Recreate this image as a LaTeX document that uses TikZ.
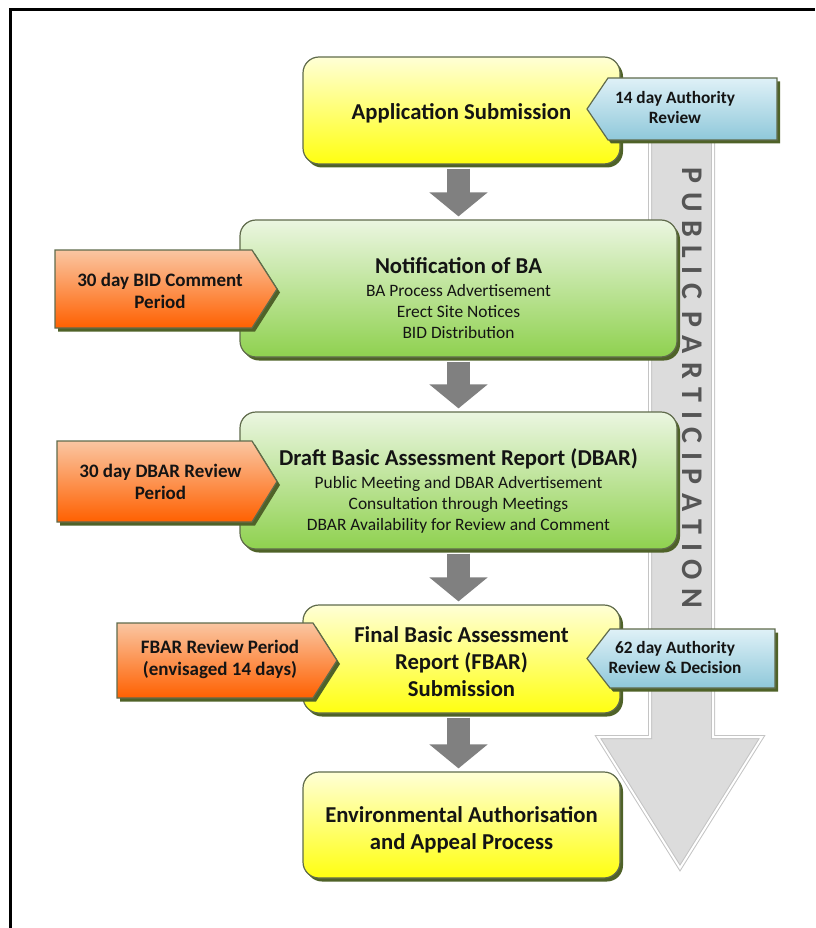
\documentclass[tikz,border=0pt]{standalone}
\usepackage{fontspec}
\setmainfont{Carlito}
\usetikzlibrary{arrows.meta,shadows}
\definecolor{boxline}{HTML}{606B4C}
\definecolor{shad}{HTML}{4F6228}
\definecolor{yTop}{HTML}{FFFFD6}
\definecolor{yBot}{HTML}{FFFF10}
\definecolor{gTop}{HTML}{EBF6E1}
\definecolor{gBot}{HTML}{8FD14F}
\definecolor{oTop}{HTML}{FAC6A2}
\definecolor{oBot}{HTML}{FF6000}
\definecolor{bTop}{HTML}{DFF1F7}
\definecolor{bBot}{HTML}{8FC8DA}
\definecolor{flowgray}{HTML}{808080}
\definecolor{bigfill}{HTML}{DCDCDC}
\definecolor{bigline}{HTML}{C4C4C4}
\definecolor{pptext}{HTML}{555555}
\definecolor{txtcol}{HTML}{141414}
\def\BigArrowPath{(650,100) -- (713,100) -- (713,737) -- (762,737) -- (680,868) -- (598,737) -- (650,737) -- cycle}
\begin{document}
\begin{tikzpicture}[x=1pt,y=-1pt,
  shadowed/.style={drop shadow={shadow xshift=3pt, shadow yshift=-3.5pt, fill=shad, opacity=1}},
  box/.style={rounded corners=16pt, draw=boxline, line width=1.2pt, inner sep=0pt, shadowed},
  ybox/.style={box, top color=yTop, bottom color=yBot},
  gbox/.style={box, top color=gTop, bottom color=gBot},
  otag/.style={draw=boxline, line width=1.2pt, top color=oTop, bottom color=oBot, shadowed},
  btag/.style={draw=boxline, line width=1.2pt, top color=bTop, bottom color=bBot, shadowed},
  txt/.style={align=center, text=txtcol, inner sep=0pt},
  ttl/.style={txt, font=\fontsize{22.7}{27}\selectfont\bfseries},
  sub/.style={txt, font=\fontsize{17.4}{21}\selectfont},
  otagtxt/.style={txt, font=\fontsize{19}{22}\selectfont\bfseries},
  btagtxt/.style={txt, font=\fontsize{17.3}{20}\selectfont\bfseries},
  flow/.style={draw=flowgray, line width=23pt, -{Triangle[length=24pt,width=57pt]}, shorten >=3pt, shorten <=4pt}]
\useasboundingbox (0,0) rectangle (815,928);
% frame
\draw[line width=3pt] (10,928) -- (10,9.5) -- (815,9.5);
% public participation arrow
\path[draw=bigline, line width=4pt, fill=bigfill] \BigArrowPath;
\draw[white, line width=2pt] \BigArrowPath;
\node[rotate=-90, text=pptext, inner sep=0pt, font=\fontsize{30}{30}\selectfont\bfseries] (pp) at (692,388)
  {P\kern8.5pt U\kern8.5pt B\kern8.5pt L\kern8.5pt I\kern8.5pt C\kern12pt P\kern8.5pt A\kern8.5pt R\kern8.5pt T\kern8.5pt I\kern8.5pt C\kern8.5pt I\kern8.5pt P\kern8.5pt A\kern8.5pt T\kern8.5pt I\kern8.5pt O\kern8.5pt N};
% boxes
\node[ybox, minimum width=317pt, minimum height=107pt] (b1) at (461.5,110.5) {};
\node[gbox, minimum width=437pt, minimum height=137pt] (b2) at (458.5,288.5) {};
\node[gbox, minimum width=437pt, minimum height=137pt] (b3) at (458.5,480.5) {};
\node[ybox, minimum width=317pt, minimum height=108pt] (b4) at (461.5,659) {};
\node[ybox, minimum width=317pt, minimum height=106pt] (b5) at (461.5,825) {};
% box texts
\node[ttl, anchor=base] (b1t) at (461.5,120) {Application Submission};
\node[sub] (b2t) at (458.5,298.5) {{\fontsize{22.7}{24}\selectfont\bfseries Notification of BA}\\[2pt]BA Process Advertisement\\Erect Site Notices\\BID Distribution};
\node[sub] (b3t) at (458.5,490.5) {{\fontsize{22.7}{24}\selectfont\bfseries Draft Basic Assessment Report (DBAR)}\\[2pt]Public Meeting and DBAR Advertisement\\Consultation through Meetings\\DBAR Availability for Review and Comment};
\node[ttl] (b4t) at (461.5,661.5) {Final Basic Assessment\\Report (FBAR)\\Submission};
\node[ttl] (b5t) at (461.5,830) {Environmental Authorisation\\and Appeal Process};
% flow arrows
\draw[flow] (b1.south -| b2.north) -- (b2.north);
\draw[flow] (b2.south) -- (b3.north);
\draw[flow] (b3.south) -- (b3.south |- b4.north);
\draw[flow] (b4.south -| b3.south) -- (b3.south |- b5.north);
% orange tags
\path[otag] (55,250) -- (252,250) -- (277,289) -- (252,328) -- (55,328) -- cycle;
\node[otagtxt] (o1) at (160,290.7) {30 day BID Comment\\Period};
\path[otag] (57,441) -- (252,441) -- (277,481.5) -- (252,522) -- (57,522) -- cycle;
\node[otagtxt] (o2) at (160.5,481.7) {30 day DBAR Review\\Period};
\path[otag] (117,623) -- (313,623) -- (337,660.5) -- (313,698) -- (117,698) -- cycle;
\node[otagtxt] (o3) at (220,659.7) {FBAR Review Period\\(envisaged 14 days)};
% blue tags
\path[btag] (587,109) -- (608,78) -- (777,78) -- (777,140) -- (608,140) -- cycle;
\node[btagtxt] (t1) at (675,107) {14 day Authority\\Review};
\path[btag] (587,658.5) -- (610,629) -- (775,629) -- (775,688) -- (610,688) -- cycle;
\node[btagtxt] (t2) at (675,657) {62 day Authority\\Review \& Decision};
\end{tikzpicture}
\end{document}
